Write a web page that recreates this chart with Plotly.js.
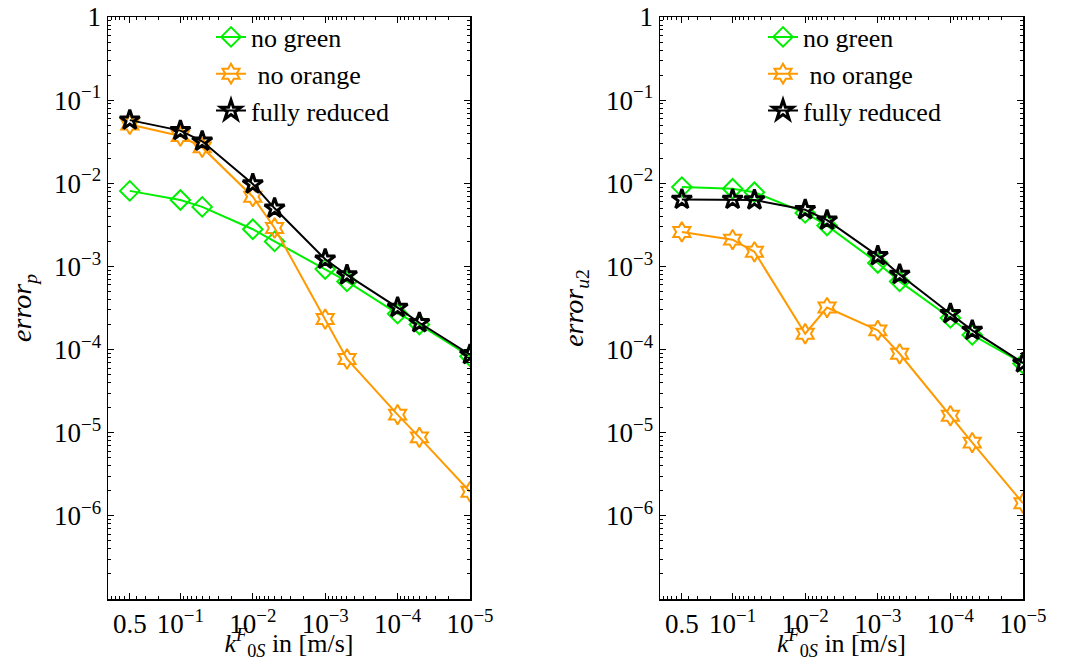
<!DOCTYPE html>
<html>
<head>
<meta charset="utf-8">
<script src="https://cdn.plot.ly/plotly-3.0.1.min.js"></script>
<style>html,body{margin:0;padding:0;background:#fff;}#chart{width:1069px;height:661px;}</style>
</head>
<body>
<div id="chart"></div>
<script>
// k_0S^F values in [m/s]
const kValues = [0.5, 0.1, 0.05, 0.01, 0.005, 0.001, 0.0005, 0.0001, 0.00005, 0.00001];

// Left panel: error_p
const errP_noGreen   = [0.0081, 0.0063, 0.0052, 0.0028, 0.0020, 0.00093, 0.00066, 0.00027, 0.00020, 0.000083];
const errP_noOrange  = [0.051, 0.037, 0.027, 0.0069, 0.0029, 0.000233, 0.000077, 0.0000165, 0.0000088, 0.00000195];
const errP_fully     = [0.0575, 0.043, 0.032, 0.0098, 0.0050, 0.00122, 0.00079, 0.00032, 0.00021, 0.000087];

// Right panel: error_u2
const errU2_noGreen  = [0.0090, 0.0086, 0.0078, 0.0044, 0.0031, 0.0011, 0.00066, 0.00024, 0.00015, 0.000068];
const errU2_noOrange = [0.0026, 0.0021, 0.0015, 0.000155, 0.00032, 0.00017, 0.000089, 0.000016, 0.0000076, 0.00000142];
const errU2_fully    = [0.0064, 0.0064, 0.0063, 0.0048, 0.0036, 0.00134, 0.00080, 0.00027, 0.000170, 0.000069];

const seriesNames = ["no green", " no orange", "fully reduced"];
const xTickVals = [0.5, 0.1, 0.01, 0.001, 0.0001, 0.00001];
const xTickExp = ["", "−1", "−2", "−3", "−4", "−5"];
const yTickVals = [1, 0.1, 0.01, 0.001, 0.0001, 0.00001, 0.000001];
const yTickExp = ["", "−1", "−2", "−3", "−4", "−5", "−6"];

function pow10Label(exp) {
  return "10<sup>" + exp + "</sup>";
}
const xTickText = xTickExp.map((e, i) => i === 0 ? "0.5" : pow10Label(e));
const yTickText = yTickExp.map((e, i) => i === 0 ? "1" : pow10Label(e));

const GREEN = "#00ee00", ORANGE = "#ff9900", BLACK = "#000000";
const FONT = "'Liberation Serif', 'DejaVu Serif', serif";

function minorVals(lo, hi) {
  const v = [];
  for (let e = lo; e < hi; e++) for (let m = 2; m <= 9; m++) v.push(m * Math.pow(10, e));
  return v;
}

function mk(y, name, color, symbol, size, lw, xa, ya, leg) {
  return {
    x: kValues, y: y, name: name, type: "scatter", mode: "lines+markers",
    xaxis: xa, yaxis: ya, legend: leg,
    line: {color: color, width: 2},
    marker: {symbol: symbol, size: size, color: color, line: {color: color, width: lw}}
  };
}

const traces = [
  mk(errP_noGreen, seriesNames[0], GREEN, "diamond-open", 15, 2, "x", "y", "legend"),
  mk(errP_noOrange, seriesNames[1], ORANGE, "hexagram-open", 15, 2, "x", "y", "legend"),
  mk(errP_fully, seriesNames[2], BLACK, "star-open", 15, 3, "x", "y", "legend"),
  mk(errU2_noGreen, seriesNames[0], GREEN, "diamond-open", 15, 2, "x2", "y2", "legend2"),
  mk(errU2_noOrange, seriesNames[1], ORANGE, "hexagram-open", 15, 2, "x2", "y2", "legend2"),
  mk(errU2_fully, seriesNames[2], BLACK, "star-open", 15, 3, "x2", "y2", "legend2")
];

const W = 1069;
function xAxis(domain, anchor) {
  return {
    type: "log", domain: domain, anchor: anchor, range: [0, -5],
    tickmode: "array", tickvals: xTickVals, ticktext: xTickText,
    ticks: "inside", ticklen: 6, tickwidth: 1, tickcolor: "#000",
    minor: {tickmode: "array", tickvals: minorVals(-5, 0), ticks: "inside", ticklen: 3, tickcolor: "#000", showgrid: false},
    showline: true, linecolor: "#000", linewidth: 1.5, mirror: "ticks",
    showgrid: false, zeroline: false,
    tickfont: {family: FONT, size: 27, color: "#000"},
    title: {text: "<i>k</i><sup><i>F</i></sup><sub>0<i>S</i></sub> in [m/s]", font: {family: FONT, size: 26, color: "#000"}, standoff: 0}
  };
}
function yAxis(anchor, titleText) {
  return {
    type: "log", anchor: anchor, range: [-7, 0], domain: [0, 1],
    tickmode: "array", tickvals: yTickVals, ticktext: yTickText,
    ticks: "inside", ticklen: 6, tickwidth: 1, tickcolor: "#000",
    minor: {tickmode: "array", tickvals: minorVals(-7, 0), ticks: "inside", ticklen: 3, tickcolor: "#000", showgrid: false},
    showline: true, linecolor: "#000", linewidth: 1.5, mirror: "ticks",
    showgrid: false, zeroline: false,
    tickfont: {family: FONT, size: 27, color: "#000"},
    title: {text: titleText, font: {family: FONT, size: 28, color: "#000"}, standoff: 14}
  };
}

const legendBase = {
  font: {family: FONT, size: 26, color: "#000"},
  bgcolor: "rgba(0,0,0,0)", borderwidth: 0,
  xanchor: "left", yanchor: "top", y: 1.006, tracegroupgap: 0, itemwidth: 30
};

const layout = {
  width: 1069, height: 661,
  margin: {l: 0, r: 0, t: 17, b: 62},
  paper_bgcolor: "#fff", plot_bgcolor: "#fff",
  font: {family: FONT, color: "#000"},
  xaxis: xAxis([108 / W, 470 / W], "y"),
  yaxis: yAxis("x", "<i>error</i><sub><i>p</i></sub>"),
  xaxis2: xAxis([660 / W, 1023 / W], "y2"),
  yaxis2: yAxis("x2", "<i>error</i><sub><i>u</i>2</sub>"),
  legend: Object.assign({}, legendBase, {x: 211 / W}),
  legend2: Object.assign({}, legendBase, {x: 763 / W}),
  showlegend: true
};

Plotly.newPlot("chart", traces, layout, {displayModeBar: false, staticPlot: true});
</script>
</body>
</html>
